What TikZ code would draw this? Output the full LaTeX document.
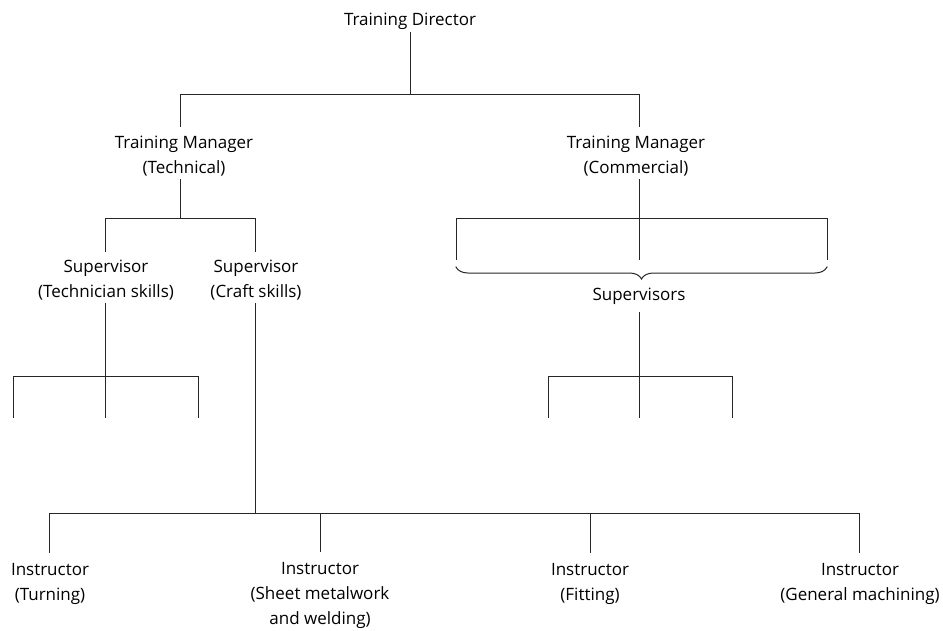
\documentclass[tikz,border=0pt]{standalone}
\usepackage{fontspec}
\setmainfont{Open Sans}
\usetikzlibrary{decorations.pathreplacing}
\begin{document}
\begin{tikzpicture}[x=1pt,y=-1pt,
  lbl/.style={font=\fontsize{17}{25}\selectfont, align=center, anchor=base, inner xsep=0pt, inner ysep=3.3pt},
  conn/.style={line width=1pt, draw=black!85, line cap=rect}]
\useasboundingbox (0,0) rectangle (943,630);
% nodes (anchored at the baseline of their last line)
\node[lbl] (td)   at (410,25)  {Training Director};
\node[lbl] (tm1)  at (184,173) {Training Manager\\(Technical)};
\node[lbl] (tm2)  at (636,173) {Training Manager\\(Commercial)};
\node[lbl] (s1)   at (106,297) {Supervisor\\(Technician skills)};
\node[lbl] (s2)   at (256,297) {Supervisor\\(Craft skills)};
\node[lbl] (sups) at (639,300) {Supervisors};
\node[lbl] (i1)   at (50,600)  {Instructor\\(Turning)};
\node[lbl] (i2)   at (320,624) {Instructor\\(Sheet metalwork\\and welding)};
\node[lbl] (i3)   at (590,600) {Instructor\\(Fitting)};
\node[lbl] (i4)   at (860,600) {Instructor\\(General machining)};
% bus coordinates
\coordinate (b1l) at (180,94);
\coordinate (b1r) at (639,94);
\coordinate (b2a) at (105,218);
\coordinate (b2b) at (255,218);
\coordinate (b2c) at (456,218);
\coordinate (b2m) at (639,218);
\coordinate (b2d) at (827,218);
\coordinate (k1) at (456,259);
\coordinate (k2) at (639,259);
\coordinate (k3) at (827,259);
\coordinate (br1) at (827,267);
\coordinate (br2) at (456,267);
\coordinate (b3a) at (13,376);
\coordinate (b3m) at (105,376);
\coordinate (b3b) at (198,376);
\coordinate (t3a) at (13,417);
\coordinate (t3m) at (105,417);
\coordinate (t3b) at (198,417);
\coordinate (b3c) at (548,376);
\coordinate (b3n) at (639,376);
\coordinate (b3d) at (732,376);
\coordinate (t3c) at (548,417);
\coordinate (t3n) at (639,417);
\coordinate (t3d) at (732,417);
\coordinate (b4a) at (49,513);
\coordinate (b4m) at (255,513);
\coordinate (b4b) at (320,513);
\coordinate (b4c) at (590,513);
\coordinate (b4d) at (859,513);
% level 1
\draw[conn] (td.south) -- (td.south |- b1l);
\draw[conn, shorten <=5.4pt, shorten >=5.4pt] (b1l |- tm1.north) -- (b1l) -- (b1r) -- (b1r |- tm2.north);
% technical branch
\draw[conn] (tm1.south -| b1l) -- (b1l |- b2a);
\draw[conn, shorten <=4.4pt, shorten >=4.4pt] (b2a |- s1.north) -- (b2a) -- (b2b) -- (b2b |- s2.north);
% commercial branch
\draw[conn] (tm2.south -| b1r) -- (b2m);
\draw[conn] (k1) -- (b2c) -- (b2d) -- (k3);
\draw[conn] (b2m) -- (k2);
\draw[conn, decorate, decoration={brace, amplitude=12pt}] (br1) -- (br2);
\draw[conn] (sups.south) ++(0,4.6) -- (b3n);
\draw[conn] (t3c) -- (b3c) -- (b3d) -- (t3d);
\draw[conn] (b3n) -- (t3n);
% technician supervisor
\draw[conn] (s1.south -| b3m) -- (b3m);
\draw[conn] (t3a) -- (b3a) -- (b3b) -- (t3b);
\draw[conn] (b3m) -- (t3m);
% craft supervisor
\draw[conn] (s2.south -| b4m) -- (b4m);
\draw[conn, shorten <=6.6pt, shorten >=6.6pt] (b4a |- i1.north) -- (b4a) -- (b4d) -- (b4d |- i4.north);
\draw[conn, shorten >=6.6pt] (b4b) -- (b4b |- i2.north);
\draw[conn, shorten >=6.6pt] (b4c) -- (b4c |- i3.north);
\end{tikzpicture}
\end{document}
